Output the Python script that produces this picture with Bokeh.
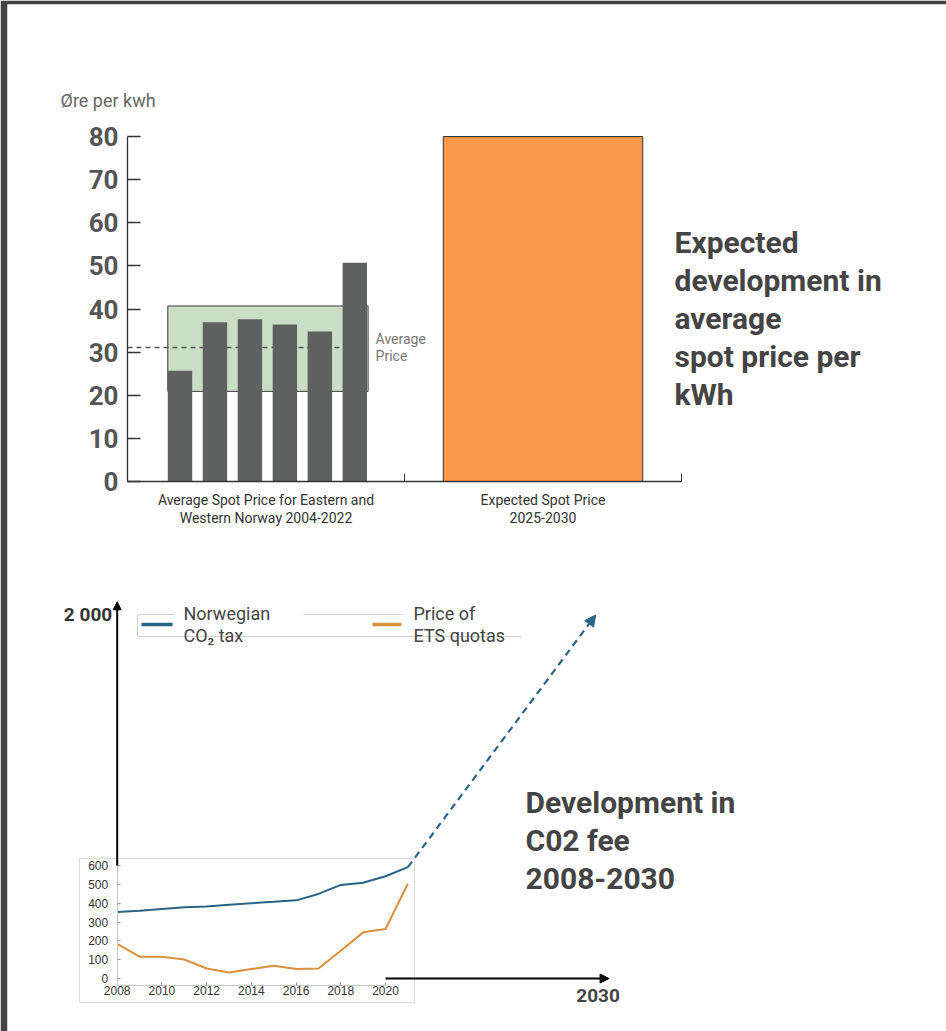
import numpy as np
from bokeh.plotting import figure
from bokeh.models import Range1d, LinearAxis, FixedTicker, Arrow, NormalHead
from bokeh.core.properties import value
from bokeh.embed import file_html
from bokeh.resources import INLINE

# ---------------- data ----------------
y_label = "Øre per kwh"
category_labels = ["Average Spot Price for Eastern and\nWestern Norway 2004-2022",
                   "Expected Spot Price\n2025-2030"]
spot_prices = [25.7, 36.9, 37.6, 36.4, 34.8, 50.7]
price_band = [20.9, 40.7]          # low, high of the shaded band
average_price = 31.1
average_label = "Average\nPrice"
expected_price = 80
top_y_ticks = [0, 10, 20, 30, 40, 50, 60, 70, 80]
top_title = "Expected\ndevelopment in\naverage\nspot price per\nkWh"

years = [2008, 2009, 2010, 2011, 2012, 2013, 2014, 2015, 2016, 2017, 2018, 2019, 2020, 2021]
co2_tax = [353, 360, 369, 378, 382, 392, 400, 407, 415, 449, 497, 508, 543, 591]
ets_price = [184, 116, 116, 101, 53, 32, 50, 68, 50, 53, 147, 245, 263, 503]
proj_years = [2021, 2029.4]
proj_values = [591, 1930]
inset_y_ticks = [0, 100, 200, 300, 400, 500, 600]
inset_x_ticks = [2008, 2010, 2012, 2014, 2016, 2018, 2020]
outer_y_max = 2000
outer_y_label = "2 000"
outer_x_max = 2030
outer_x_label = "2030"
legend_labels = ["Norwegian\nCO\u2082 tax", "Price of\nETS quotas"]
bottom_title = "Development in\nC02 fee\n2008-2030"

# ---------------- layout ----------------
W, H = 946, 1031
FL, FT = 7, 4
FW, FH = W - FL, H - FT


def make_map(va, pa, vb, pb):
    k = (vb - va) / (pb - pa)
    return lambda px: va + (px - pa) * k


top_x = make_map(0, 127, 2, 681)
top_y = make_map(0, 481, 80, 136)
bot_x = make_map(2008, 116.7, 2020, 385)
bot_y = make_map(0, 978, 600, 865)

FONT = "Roboto"
BLUE = "#2b6384"
ORANGE = "#d9913f"
LH = 1.18  # bokeh line box per font size

p = figure(width=W, height=H, title=None,
           x_range=Range1d(top_x(FL), top_x(FL + FW)),
           y_range=Range1d(top_y(FT + FH), top_y(FT)),
           x_axis_type=None, y_axis_type=None,
           toolbar_location=None, output_backend="svg",
           min_border_left=FL, min_border_top=FT,
           min_border_right=0, min_border_bottom=0,
           border_fill_color="#444444", background_fill_color="white",
           outline_line_color=None)
p.extra_x_ranges = {"bx": Range1d(bot_x(FL), bot_x(FL + FW))}
p.extra_y_ranges = {"by": Range1d(bot_y(FT + FH), bot_y(FT))}

# ================= TOP CHART =================
bar_w = 24.4 / 277
bar_x0 = top_x(179.5)
bar_step = (top_x(354.3) - top_x(179.5)) / (len(spot_prices) - 1)
bar_x = [bar_x0 + i * bar_step for i in range(len(spot_prices))]

band_left = bar_x[0] - bar_w / 2
band_right = bar_x[-1] + bar_w / 2 + 0.004
p.quad(left=[band_left], right=[band_right], bottom=[price_band[0]], top=[price_band[1]],
       fill_color="#c9dec4", line_color="#3a3a3a", line_width=1)

p.segment(x0=[0], y0=[average_price], x1=[bar_x[-1]], y1=[average_price],
          line_color="#555555", line_width=1.5, line_dash="5 4")

p.vbar(x=bar_x, top=spot_prices, bottom=0, width=bar_w,
       fill_color="#5f6060", line_color=None)

p.vbar(x=[1.5], top=[expected_price], bottom=0, width=0.72,
       fill_color="#F7984D", line_color="#333333", line_width=1)

p.text(x=[band_right + 0.027], y=[average_price], text=[average_label],
       text_font=value(FONT), text_font_size="14px", text_color="#777777",
       text_align="left", text_baseline="middle", text_line_height=17 / (14 * LH))

p.text(x=[top_x(60)], y=[top_y(100)], text=[y_label],
       text_font=value(FONT), text_font_size="18px", text_color="#666666",
       text_align="left", text_baseline="middle")

p.text(x=[top_x(674)], y=[top_y(318)], text=[top_title],
       text_font=value(FONT), text_font_size="30px", text_font_style="bold",
       text_color="#444444", text_align="left", text_baseline="middle",
       text_line_height=38.5 / (30 * LH))

# top y axis
yax = LinearAxis(fixed_location=0, ticker=FixedTicker(ticks=top_y_ticks),
                 bounds=(0, 80))
yax.axis_line_color = "#333333"
yax.axis_line_width = 1.3
yax.major_tick_in = 13
yax.major_tick_out = 0
yax.major_tick_line_color = "#333333"
yax.major_tick_line_width = 1.3
yax.minor_tick_line_color = None
yax.major_label_standoff = 9
yax.major_label_text_font = FONT
yax.major_label_text_font_size = "26px"
yax.major_label_text_font_style = "bold"
yax.major_label_text_color = "#555555"
p.add_layout(yax, "left")

# top x axis (boundary ticks)
xax = LinearAxis(fixed_location=0, ticker=FixedTicker(ticks=[0, 1, 2]), bounds=(0, 2))
xax.axis_line_color = "#333333"
xax.axis_line_width = 1.3
xax.major_tick_in = 8
xax.major_tick_out = 0
xax.major_tick_line_color = "#333333"
xax.minor_tick_line_color = None
xax.major_label_text_alpha = 0
p.add_layout(xax, "below")

# top x axis (category labels)
xlab = LinearAxis(fixed_location=0, ticker=FixedTicker(ticks=[0.5, 1.5]))
xlab.axis_line_color = None
xlab.major_tick_line_color = None
xlab.minor_tick_line_color = None
xlab.major_label_overrides = {0.5: category_labels[0], 1.5: category_labels[1]}
xlab.major_label_standoff = 4
xlab.major_label_text_font = FONT
xlab.major_label_text_font_size = "14px"
xlab.major_label_text_color = "#333333"
xlab.major_label_text_line_height = 19 / (14 * LH)
p.add_layout(xlab, "below")

# ================= BOTTOM CHART =================
R = dict(x_range_name="bx", y_range_name="by")

# inset frame
p.quad(left=[bot_x(79)], right=[bot_x(414)], bottom=[bot_y(1002)], top=[bot_y(858)],
       fill_color="white", line_color="#dcdcdc", line_width=1, **R)

# inset axes
iy = LinearAxis(fixed_location=2008, ticker=FixedTicker(ticks=inset_y_ticks),
                bounds=(bot_y(985), 600), **R)
iy.axis_line_color = "#c4c4c4"
iy.major_tick_in = 3
iy.major_tick_out = 0
iy.major_tick_line_color = "#999999"
iy.minor_tick_line_color = None
iy.major_label_standoff = 9
iy.major_label_text_font = "Liberation Sans"
iy.major_label_text_font_size = "12px"
iy.major_label_text_color = "#333333"
p.add_layout(iy, "left")

ix = LinearAxis(fixed_location=bot_y(985), ticker=FixedTicker(ticks=inset_x_ticks),
                bounds=(2008, 2020), **R)
ix.axis_line_color = "#c4c4c4"
ix.major_tick_in = 3
ix.major_tick_out = 0
ix.major_tick_line_color = "#999999"
ix.minor_tick_line_color = None
ix.major_label_standoff = 0
ix.major_label_text_font = "Liberation Sans"
ix.major_label_text_font_size = "12px"
ix.major_label_text_color = "#333333"
p.add_layout(ix, "below")

# series
p.line(years, co2_tax, line_color=BLUE, line_width=2, **R)
p.line(years, ets_price, line_color=ORANGE, line_width=2, **R)

# projection arrow
p.add_layout(Arrow(end=NormalHead(size=11, fill_color=BLUE, line_color=BLUE),
                   x_start=proj_years[0], y_start=proj_values[0],
                   x_end=proj_years[1], y_end=proj_values[1],
                   line_color=BLUE, line_width=2.2, line_dash="7 5", **R))

# outer black axes (arrows)
p.add_layout(Arrow(end=NormalHead(size=8, fill_color="black", line_color="black"),
                   x_start=2008, y_start=inset_y_ticks[-1], x_end=2008, y_end=outer_y_max,
                   line_color="black", line_width=2, **R))
p.add_layout(Arrow(end=NormalHead(size=9, fill_color="black", line_color="black"),
                   x_start=inset_x_ticks[-1], y_start=0, x_end=outer_x_max, y_end=0,
                   line_color="black", line_width=2, **R))

p.text(x=[2008], y=[outer_y_max], text=[outer_y_label], x_offset=-5, y_offset=13,
       text_font=value(FONT), text_font_size="19px", text_font_style="bold",
       text_color="#333333", text_align="right", text_baseline="middle", **R)
p.text(x=[outer_x_max], y=[0], text=[outer_x_label], x_offset=-11, y_offset=17,
       text_font=value(FONT), text_font_size="19px", text_font_style="bold",
       text_color="#444444", text_align="center", text_baseline="middle", **R)

# legend
lc = "#d2d2d2"
p.multi_line(xs=[[bot_x(137), bot_x(174)], [bot_x(303), bot_x(402)],
                 [bot_x(137), bot_x(521)], [bot_x(137), bot_x(137)]],
             ys=[[bot_y(614), bot_y(614)], [bot_y(614), bot_y(614)],
                 [bot_y(636), bot_y(636)], [bot_y(614), bot_y(636)]],
             line_color=lc, line_width=1, **R)
p.segment(x0=[bot_x(141), bot_x(372)], y0=[bot_y(624)] * 2,
          x1=[bot_x(172), bot_x(401)], y1=[bot_y(624)] * 2,
          line_color=[BLUE, ORANGE], line_width=3.5, **R)
p.text(x=[bot_x(183), bot_x(413)], y=[bot_y(624)] * 2, text=legend_labels,
       text_font=value(FONT), text_font_size="18px", text_color="#444444",
       text_align="left", text_baseline="middle", text_line_height=22.5 / (18 * LH), **R)

p.text(x=[bot_x(525)], y=[bot_y(840)], text=[bottom_title],
       text_font=value(FONT), text_font_size="30px", text_font_style="bold",
       text_color="#444444", text_align="left", text_baseline="middle",
       text_line_height=38 / (30 * LH), **R)

open("out.html", "w").write(file_html(p, INLINE))
